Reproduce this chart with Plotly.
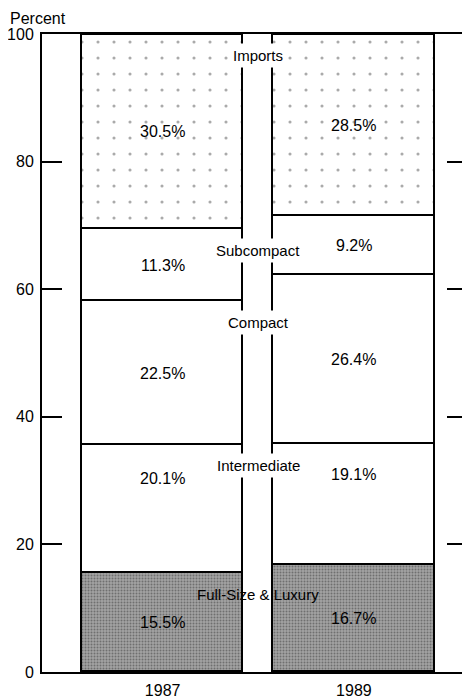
import plotly.graph_objects as go

years = ["1987", "1989"]
categories = ["Full-Size & Luxury", "Intermediate", "Compact", "Subcompact", "Imports"]
vals_1987 = [15.5, 20.1, 22.5, 11.3, 30.5]
vals_1989 = [16.7, 19.1, 26.4, 9.2, 28.5]
y_ticks = [0, 20, 40, 60, 80, 100]

FONT = "Liberation Sans, Arial, Helvetica, sans-serif"
xpos = [0, 1]

fills = {
    "Full-Size & Luxury": dict(color="#a2a2a2",
                               pattern=dict(shape=".", fgcolor="#3c3c3c", size=3, solidity=0.35)),
    "Intermediate": dict(color="white"),
    "Compact": dict(color="white"),
    "Subcompact": dict(color="white"),
    "Imports": dict(color="white",
                    pattern=dict(shape=".", fgcolor="#555555", size=16, solidity=0.03)),
}

fig = go.Figure()
for i, cat in enumerate(categories):
    m = dict(fills[cat])
    m["line"] = dict(color="black", width=1.6)
    fig.add_trace(go.Bar(
        x=xpos, y=[vals_1987[i], vals_1989[i]], name=cat,
        marker=m, width=0.843, showlegend=False, hoverinfo="skip",
    ))

# invisible trace for right-side tick marks
fig.add_trace(go.Scatter(x=[None], y=[None], yaxis="y2", showlegend=False, hoverinfo="skip"))

annotations = []
# percent labels at segment centres
label_shift = {"Intermediate": 30}
for yi, vals in enumerate([vals_1987, vals_1989]):
    base = 0
    for i, cat in enumerate(categories):
        v = vals[i]
        annotations.append(dict(
            x=xpos[yi], y=base + v / 2, xref="x", yref="y",
            text=f"{v}%", showarrow=False, yshift=label_shift.get(cat, 0),
            font=dict(family=FONT, size=16, color="black"),
        ))
        base += v

# category names between the bars, just below each 1987 segment top
base = 0
for i, cat in enumerate(categories):
    base += vals_1987[i]
    top = 100 if cat == "Imports" else base
    annotations.append(dict(
        x=0.5, y=top, xref="x", yref="y", text=cat, showarrow=False,
        yshift=-21, font=dict(family=FONT, size=15, color="black"),
        bgcolor=None if cat == "Full-Size & Luxury" else "white",
        borderpad=3,
    ))

annotations.append(dict(
    x=-0.0794, y=1.0405, xref="paper", yref="paper", text="Percent", showarrow=False,
    xanchor="left", yanchor="top",
    font=dict(family=FONT, size=16, color="black"),
))

fig.update_layout(
    width=462, height=691,
    margin=dict(l=34, r=0, t=26, b=27),
    plot_bgcolor="white", paper_bgcolor="white",
    barmode="stack", bargap=0,
    annotations=annotations,
    xaxis=dict(
        range=[-0.631, 1.607], tickvals=xpos, ticktext=years,
        showline=True, linecolor="black", linewidth=2, mirror=True,
        showgrid=False, zeroline=False, ticks="", ticklabelstandoff=3,
        tickfont=dict(family=FONT, size=16, color="black"),
    ),
    yaxis=dict(
        range=[0, 100], tickvals=y_ticks,
        showline=True, linecolor="black", linewidth=2,
        showgrid=False, zeroline=False, ticklabelstandoff=3,
        ticks="inside", ticklen=20, tickwidth=2, tickcolor="black",
        tickfont=dict(family=FONT, size=16, color="black"),
    ),
    yaxis2=dict(
        range=[0, 100], tickvals=y_ticks[1:-1], overlaying="y", side="right",
        anchor="free", position=0.981, showline=False, showgrid=False,
        zeroline=False, ticks="inside", ticklen=15, tickwidth=2,
        tickcolor="black", showticklabels=False,
    ),
)

fig.write_html("out.html")
